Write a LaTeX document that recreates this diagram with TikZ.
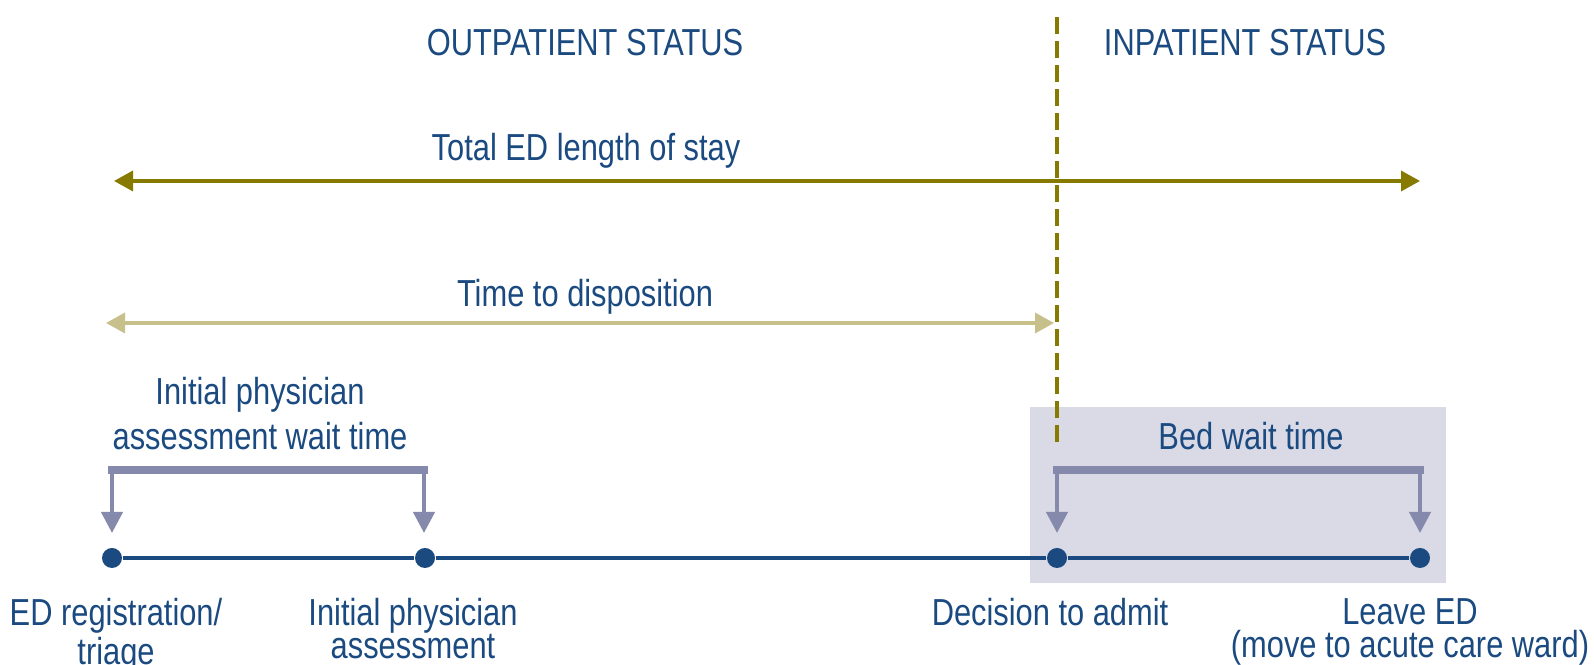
\documentclass[tikz,border=0pt]{standalone}
\usepackage{fontspec}
\setmainfont{Liberation Sans}[FakeStretch=0.82]
\usetikzlibrary{arrows.meta}
\definecolor{edblue}{HTML}{1A4A80}
\definecolor{losolive}{HTML}{867A00}
\definecolor{dispkhaki}{HTML}{C8C08A}
\definecolor{waitgray}{HTML}{8589AB}
\definecolor{bedbox}{HTML}{D9DAE5}
\tikzset{
  lbl/.style={text=edblue, inner sep=0pt, align=center, anchor=north, font=\fontsize{10.7}{12.8}\selectfont},
  evlbl/.style={lbl, font=\fontsize{10.7}{9.4}\selectfont},
  event/.style={shape=circle, fill=edblue, inner sep=0pt, minimum size=0.2cm},
  span/.style={{Triangle[length=0.19cm,width=0.2cm]}-{Triangle[length=0.19cm,width=0.2cm]}, line width=1pt},
  bar/.style={draw=waitgray, line width=2.3pt, line cap=rect},
  drop/.style={-{Triangle[length=0.21cm,width=0.21cm]}, draw=waitgray, line width=1.2pt},
}
\begin{document}
\begin{tikzpicture}
\useasboundingbox (0,0) rectangle (15.94,6.65);
\fill[bedbox] (10.30,0.82) rectangle (14.46,2.58);
\node[lbl] (outp) at (5.85,6.36) {OUTPATIENT STATUS};
\node[lbl] (inp) at (12.45,6.36) {INPATIENT STATUS};
\node[lbl] (los) at (5.86,5.32) {Total ED length of stay};
\node[lbl] (disp) at (5.85,3.86) {Time to disposition};
\node[lbl] (iwait) at (2.60,2.88) {Initial physician\\assessment wait time};
\node[lbl] (bwait) at (12.51,2.43) {Bed wait time};
\coordinate (losL) at (1.14,4.84);
\coordinate (losR) at (14.20,4.84);
\coordinate (dispL) at (1.06,3.42);
\coordinate (dispR) at (10.54,3.42);
\coordinate (statT) at (10.57,6.48);
\coordinate (statB) at (10.57,2.18);
\draw [span, draw=losolive] (losL) -- (losR);
\draw [span, draw=dispkhaki] (dispL) -- (dispR);
\draw [losolive, line width=1.3pt, dash pattern=on 0.17cm off 0.07cm] (statT) -- (statB);
\node[event] (reg) at (1.12,1.07) {};
\node[event] (phys) at (4.25,1.07) {};
\node[event] (admit) at (10.57,1.07) {};
\node[event] (leave) at (14.20,1.07) {};
\path [-, draw=edblue, line width=1pt] (reg) edge (phys);
\path [-, draw=edblue, line width=1pt] (phys) edge (admit);
\path [-, draw=edblue, line width=1pt] (admit) edge (leave);
\coordinate (iwaitL) at (1.12,1.95);
\coordinate (iwaitR) at (4.24,1.95);
\coordinate (bwaitL) at (10.57,1.95);
\coordinate (bwaitR) at (14.20,1.95);
\coordinate (regT) at (1.12,1.32);
\coordinate (physT) at (4.24,1.32);
\coordinate (admitT) at (10.57,1.32);
\coordinate (leaveT) at (14.20,1.32);
\draw [bar] (iwaitL) -- (iwaitR);
\draw [bar] (bwaitL) -- (bwaitR);
\draw [drop] (iwaitL) -- (regT);
\draw [drop] (iwaitR) -- (physT);
\draw [drop] (bwaitL) -- (admitT);
\draw [drop] (bwaitR) -- (leaveT);
\node[evlbl] (regl) at (1.16,0.67) {ED registration/\\triage};
\node[evlbl] (physl) at (4.13,0.67) {Initial physician\\assessment};
\node[evlbl] (admitl) at (10.50,0.67) {Decision to admit};
\node[evlbl] (leavel) at (14.10,0.67) {Leave ED\\(move to acute care ward)};
\end{tikzpicture}
\end{document}
